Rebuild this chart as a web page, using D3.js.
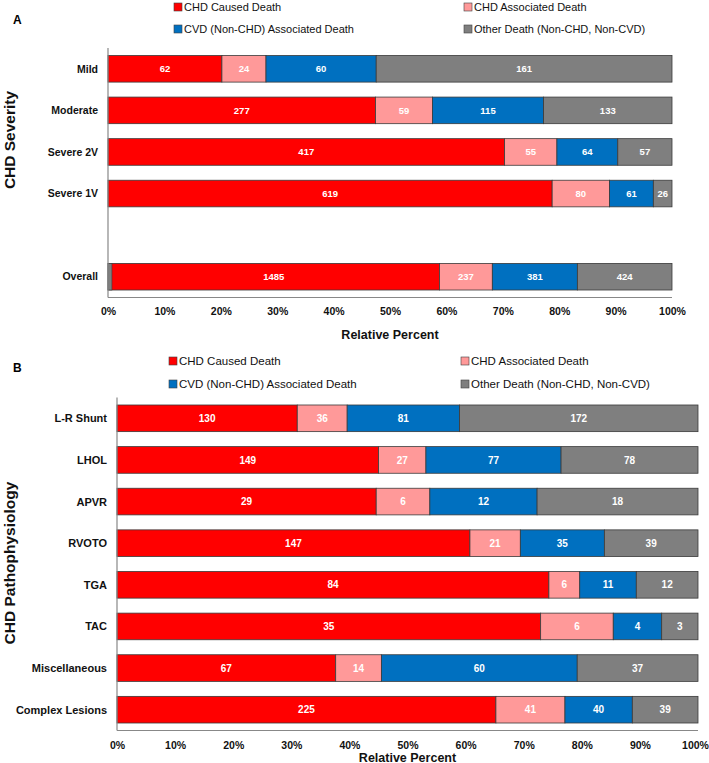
<!DOCTYPE html>
<html>
<head>
<meta charset="utf-8">
<script src="https://cdn.jsdelivr.net/npm/d3@7"></script>
<style>
  html, body { margin: 0; padding: 0; background: #fff; }
  svg { display: block; font-family: "Liberation Sans", Arial, sans-serif; }
</style>
</head>
<body>
<svg id="chart" width="709" height="763"></svg>
<script>
// ---------- data ----------
const seriesNames = ["CHD Caused Death", "CHD Associated Death", "CVD (Non-CHD) Associated Death", "Other Death (Non-CHD, Non-CVD)"];
const seriesKeys = ["caused", "assoc", "cvd", "other"];

// Panel A – CHD severity (blank slot before "Overall")
const severityCats = ["Mild", "Moderate", "Severe 2V", "Severe 1V", "", "Overall"];
const sevCaused = [62, 277, 417, 619, null, 1485];
const sevAssoc  = [24, 59, 55, 80, null, 237];
const sevCvd    = [60, 115, 64, 61, null, 381];
const sevOther  = [161, 133, 57, 26, null, 424];
// thin grey sliver visible at the start of the "Overall" bar (fraction of axis)
const overallLeadSliver = [0, 0.007];

// Panel B – CHD pathophysiology
const pathoCats = ["L-R Shunt", "LHOL", "APVR", "RVOTO", "TGA", "TAC", "Miscellaneous", "Complex Lesions"];
const patCaused = [130, 149, 29, 147, 84, 35, 67, 225];
const patAssoc  = [36, 27, 6, 21, 6, 6, 14, 41];
const patCvd    = [81, 77, 12, 35, 11, 4, 60, 40];
const patOther  = [172, 78, 18, 39, 12, 3, 37, 39];

const tickValues = [0, 0.1, 0.2, 0.3, 0.4, 0.5, 0.6, 0.7, 0.8, 0.9, 1.0];

// ---------- styles ----------
const colors = ["#ff0000", "#ff9999", "#0070c0", "#7f7f7f"];

const svg = d3.select("#chart");

function drawPanel(o) {
  const rows = o.cats.map((c, i) => ({
    cat: c,
    caused: o.caused[i], assoc: o.assoc[i], cvd: o.cvd[i], other: o.other[i]
  })).filter(r => r.caused != null);

  const x = d3.scaleLinear().domain([0, 1]).range([o.x0, o.x1]);
  const y = d3.scaleBand().domain(o.cats.map((c, i) => c === "" ? "__blank" + i : c))
    .range([o.y0, o.y1]).paddingInner(o.padIn).paddingOuter(o.padIn / 2);

  const stack = d3.stack().keys(seriesKeys).offset(d3.stackOffsetExpand);
  const layers = stack(rows);

  const g = svg.append("g");

  // legend
  const leg = g.append("g");
  seriesNames.forEach((name, i) => {
    const lx = o.legX[i % 2], ly = o.legY[Math.floor(i / 2)];
    leg.append("rect").attr("x", lx).attr("y", ly - 4).attr("width", 8).attr("height", 8)
      .attr("fill", colors[i]).attr("stroke", "#404040").attr("stroke-width", 0.6);
    leg.append("text").attr("x", lx + 10).attr("y", ly).attr("dy", "0.36em")
      .attr("font-size", o.legFont).attr("fill", "#111").text(name);
  });

  // panel letter
  g.append("text").attr("x", o.letterX).attr("y", o.letterY).attr("dy", "0.36em")
    .attr("font-size", 12).attr("font-weight", "bold").text(o.letter);

  // bars
  layers.forEach((layer, li) => {
    const lg = g.append("g");
    lg.selectAll("rect").data(layer).join("rect")
      .attr("x", d => x(d[0]))
      .attr("y", d => y(d.data.cat))
      .attr("width", d => x(d[1]) - x(d[0]))
      .attr("height", y.bandwidth())
      .attr("fill", colors[li])
      .attr("stroke", "#3a3a3a").attr("stroke-width", 0.8);
    lg.selectAll("text").data(layer).join("text")
      .attr("x", d => (x(d[0]) + x(d[1])) / 2)
      .attr("y", d => y(d.data.cat) + y.bandwidth() / 2)
      .attr("dy", "0.36em").attr("text-anchor", "middle")
      .attr("font-size", o.valFont).attr("font-weight", "bold").attr("fill", "#fff")
      .text(d => d.data[seriesKeys[li]]);
  });

  if (o.sliver) {
    g.append("rect")
      .attr("x", x(o.sliver.range[0]))
      .attr("y", y(o.sliver.cat))
      .attr("width", x(o.sliver.range[1]) - x(o.sliver.range[0]))
      .attr("height", y.bandwidth())
      .attr("fill", colors[3]).attr("stroke", "#3a3a3a").attr("stroke-width", 0.6);
  }

  // axes lines
  g.append("line").attr("x1", o.x0).attr("x2", o.x0).attr("y1", o.y0).attr("y2", o.y1)
    .attr("stroke", "#888").attr("stroke-width", 1.2);
  g.append("line").attr("x1", o.x0).attr("x2", o.x1).attr("y1", o.y1).attr("y2", o.y1)
    .attr("stroke", "#888").attr("stroke-width", 1.2);

  // category labels
  rows.forEach(r => {
    g.append("text").attr("x", o.x0 - 10).attr("y", y(r.cat) + y.bandwidth() / 2)
      .attr("dy", "0.36em").attr("text-anchor", "end")
      .attr("font-size", o.catFont).attr("font-weight", "bold").attr("fill", "#111").text(r.cat);
  });

  // x-axis ticks via d3 axis
  const xAxis = d3.axisBottom(x).tickValues(tickValues).tickFormat(d3.format(".0%")).tickSize(0).tickPadding(0);
  const ax = g.append("g").attr("transform", `translate(0,${o.tickY})`).call(xAxis);
  ax.select(".domain").remove();
  ax.selectAll("text").attr("font-size", o.tickFont).attr("font-weight", "bold").attr("fill", "#111")
    .attr("font-family", "Liberation Sans, Arial, sans-serif").attr("dy", "0.36em").attr("y", 0)
    .attr("dx", (d, i, n) => i === n.length - 1 ? o.lastTickDx : 0);

  // x title
  g.append("text").attr("x", (o.x0 + o.x1) / 2).attr("y", o.xTitleY).attr("dy", "0.36em")
    .attr("text-anchor", "middle").attr("font-size", 12.5).attr("font-weight", "bold").attr("fill", "#111")
    .text("Relative Percent");

  // y title
  g.append("text").attr("transform", `translate(${o.yTitleX},${o.yTitleY}) rotate(-90)`)
    .attr("text-anchor", "middle").attr("font-size", 15.5).attr("font-weight", "bold").attr("fill", "#111")
    .text(o.yTitle);
}

drawPanel({
  cats: severityCats, caused: sevCaused, assoc: sevAssoc, cvd: sevCvd, other: sevOther,
  sliver: { cat: "Overall", range: overallLeadSliver },
  x0: 108, x1: 672, y0: 48, y1: 297.5, padIn: 0.36,
  legX: [174, 464], legY: [7, 29], legFont: 11, letter: "A", letterX: 13, letterY: 20,
  valFont: 9.5, catFont: 10.5, tickFont: 10.5, tickY: 311, xTitleY: 334, lastTickDx: 0,
  yTitle: "CHD Severity", yTitleX: 15, yTitleY: 140
});

drawPanel({
  cats: pathoCats, caused: patCaused, assoc: patAssoc, cvd: patCvd, other: patOther,
  x0: 117, x1: 698, y0: 397.5, y1: 730.5, padIn: 0.36,
  legX: [169, 461], legY: [361, 384], legFont: 11.5, letter: "B", letterX: 13, letterY: 368,
  valFont: 10, catFont: 11, tickFont: 10.5, tickY: 745, xTitleY: 757, lastTickDx: -3,
  yTitle: "CHD Pathophysiology", yTitleX: 15, yTitleY: 563
});
</script>
</body>
</html>
